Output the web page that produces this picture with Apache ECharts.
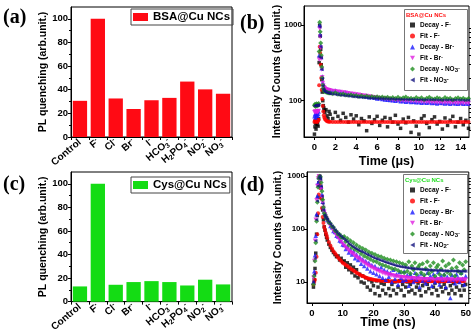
<!DOCTYPE html>
<html><head><meta charset="utf-8">
<script src="https://cdn.jsdelivr.net/npm/echarts@6.0.0/dist/echarts.min.js"></script>
<style>html,body{margin:0;padding:0;background:#fff}#c{width:474px;height:335px}</style>
</head><body><div id="c"></div>
<script>
// ---------- data ----------
const barCats = ['Control','F','Cl','Br','I','HCO3','H2PO4','NO2','NO3'];
const barLabels = ['Control','F{p|-}','Cl{p|-}','Br{p|-}','I{p|-}','HCO{b|3}{p|-}','H{b|2}PO{b|4}{p|-}','NO{b|2}{p|-}','NO{b|3}{p|-}'];
const bsaQuench = [30.6, 100, 32.6, 23.7, 31.1, 33.1, 46.9, 40.3, 36.6];
const cysQuench = [12.9, 100, 14.3, 16.6, 17.4, 16.6, 13.7, 18.6, 14.6];
const barYTicks = [0, 20, 40, 60, 80, 100];

// panel (b): time in microseconds
const bTime = [0,0.05,0.1,0.15,0.2,0.25,0.3,0.35,0.4,0.45,0.5,0.55,0.6,0.65,0.7,0.75,0.8,0.85,0.9,0.95,1,1.1,1.2,1.3,1.4,
1.5,1.75,2,2.25,2.5,2.75,3,3.25,3.5,3.75,4,4.25,4.5,4.75,5,5.25,5.5,5.75,6,6.25,6.5,6.75,7,7.25,7.5,7.75,8,8.25,8.5,8.75,9,9.25,9.5,9.75,10,10.25,10.5,10.75,11,11.25,11.5,11.75,12,12.25,12.5,12.75,13,13.25,13.5,13.75,14,14.25,14.5,14.75];
const bDecayF = [36,45,50,42,55,48,52,46,58,320,1000,720,480,300,190,130,100,86,80,74,70,76,63,58,72,
66,58,70,62,55,68,60,52,65,57,63,48,58,54,40,61,50,56,62,47,55,60,45,58,52,64,49,43,57,51,60,38,54,46,36,58,63,50,44,56,61,49,53,42,59,47,55,62,45,52,58,48,55,43];
const bFitF = [52,54,55,53,54,52,53,55,56,160,520,430,300,200,140,105,85,72,64,60,57,55,53.5,53,52.5,
52.4,52.3,52.2,52.1,52.1,52,52,52,52,52,52,52,52,52,52,52,52,52,52,52,52,52,52,52,52,52,52,52,52,52,52,52,52,52,52,52,52,52,52,52,52,52,52,52,52,52,52,52,52,52,52,52,52,52];
const bDecayBr = [62,66,60,70,64,68,63,67,72,400,1000,760,540,380,270,210,175,160,152,148,146,143,141,139,138,
137,135,136,132,131,128,129,125,124,122,121,118,117,115,114,111,112,109,107,108,105,104,103,102,101,100,101,98,99,97,98,96,97,95,96,94,95,94,95,93,94,92,94,93,92,93,91,93,92,91,93,91,92,91];
const bFitBr = [70,72,71,70,72,71,70,72,73,350,900,700,500,360,260,205,172,158,151,147,145,142,140,138.5,137.5,
136,134.5,133,131.5,130,128.5,127,125.5,124,122.5,121,119.5,118,116.5,115,113.5,112,110.5,109,108,107,106,105,104,103,102,101,100.5,100,99.5,99,98.5,98,97.5,97,96.5,96,95.7,95.4,95.1,94.8,94.5,94.2,94,93.8,93.6,93.4,93.2,93,92.8,92.6,92.4,92.2,92];
const bDecayNO3 = [86,90,84,88,91,85,89,87,92,450,1100,820,580,400,280,200,160,145,138,134,132,130,128,127,126,
126,124,127,122,121,123,119,118,120,116,117,114,116,113,115,112,114,111,113,110,112,109,111,108,110,107,111,106,109,112,107,108,105,110,106,109,104,108,111,106,105,109,107,104,110,106,108,103,107,109,105,108,104,107];
const bFitNO3 = [85,86,87,86,87,86,87,86,88,380,950,720,520,370,260,195,158,143,137,133,131,129,127,126,125,
124,122.5,121,119.5,118,117,116,115,114,113,112,111.2,110.5,109.8,109.2,108.6,108,107.5,107,106.6,106.2,105.8,105.5,105.2,104.9,104.6,104.4,104.2,104,103.8,103.6,103.4,103.3,103.2,103.1,103,102.9,102.8,102.7,102.6,102.5,102.4,102.3,102.2,102.1,102,102,101.9,101.9,101.8,101.8,101.7,101.7,101.6];
const bXTicks = [0,2,4,6,8,10,12,14];
const bYTicks = [100,1000];
const bYMinor = [40,50,60,70,80,90,200,300,400,500,600,700,800,900];

// panel (d): time in nanoseconds
const dTime = [0.5,0.75,1,1.25,1.5,1.75,2,2.25,2.5,2.75,3,3.25,3.5,3.75,4,4.25,4.5,4.75,5,5.5,6,6.5,7,7.5,8,8.5,9,9.5,10,
10.5,11,11.5,12,12.5,13,13.5,14,14.5,15,15.5,16,16.5,17,17.5,18,18.5,19,19.5,20,20.5,21,21.5,22,22.5,23,23.5,24,24.5,25,25.5,26,26.5,27,27.5,28,28.5,29,29.5,30,30.5,31,31.5,32,32.5,33,33.5,34,34.5,35,35.5,36,36.5,37,37.5,38,38.5,39,39.5,40,40.5,41,41.5,42,42.5,43,43.5,44,44.5,45,45.5,46,46.5,47,47.5,48,48.5,49,49.5,50];
const dDecayF = [8,11,18,35,80,180,400,750,1000,900,600,380,230,150,110,95,80,70,62,52,45,40,36,33,30,31,26,28,24,
25,19,23,17,21,15,19,13,17,12,14,10,13,9.5,12,8,11,7,10,8.5,6,10.5,8,5.5,9.5,7,9,6,10.5,7.5,5.5,9,7,10,6,8,10.5,7,9,5.5,8,10,6.5,9,7,10.5,6,8,9.5,7,5.5,8.5,10,6.5,9,7.5,10.5,6,8,9.5,7,5.5,10,8,6.5,9,7.5,10.5,6,8.5,7,9.5,6,8,10,7,5.5,8.5,7,9];
const dFitF = [9,10,11,15,30,80,200,450,700,600,380,250,170,130,110,97,85,76,68,57,49,43,38,35,32,29,27,25,23,
22,21,20,19,18,17.2,16.5,15.7,15,14.4,13.8,13.3,12.9,12.5,12.1,11.8,11.6,11.4,11.2,11,10.9,10.8,10.7,10.6,10.55,10.5,10.45,10.4,10.4,10.35,10.35,10.3,10.3,10.3,10.3,10.3,10.3,10.3,10.3,10.3,10.3,10.3,10.3,10.3,10.3,10.3,10.3,10.3,10.3,10.3,10.3,10.3,10.3,10.3,10.3,10.3,10.3,10.3,10.3,10.3,10.3,10.3,10.3,10.3,10.3,10.3,10.3,10.3,10.3,10.3,10.3,10.3,10.3,10.3,10.3,10.3,10.3,10.3,10.3];
const dDecayBr = [10,16,32,75,190,420,760,950,1000,880,640,450,330,260,220,205,176,170,148,136,114,108,92,88,75,72,61,59,51,
50,42,47,36,41,33,38,28,33,26,30,22,27,20,25,18,23,16,21,15,20,14,18,13,19,12,17,11,16,12.5,15,10,17,11.5,14,9,15.5,12,10.5,16,11,13.5,8.5,14,12,10,15,11,13,8,14.5,10.5,12.5,9.5,15,11,13,8.5,14,10,12,15.5,9,13,11,14,8,12.5,10.5,5,13.5,11,9.5,14,12,10,15,11.5,9,13];
const dFitBr = [12,25,60,150,350,650,900,1000,950,780,560,400,310,250,210,190,172,158,146,128,114,102,92,83,75,68,62,57,52,
48,45,42,39.5,37,35,33,31,29.5,28,26.5,25.2,24,23,22,21,20.2,19.4,18.7,18,17.4,16.8,16.3,15.8,15.4,15,14.6,14.3,14,13.7,13.5,13.3,13.1,12.9,12.7,12.5,12.4,12.3,12.2,12.1,12,11.9,11.8,11.7,11.7,11.6,11.6,11.5,11.5,11.4,11.4,11.4,11.3,11.3,11.3,11.2,11.2,11.2,11.2,11.1,11.1,11.1,11.1,11,11,11,11,11,11,11,11,11,11,11,11,11,11,11,11,11];
const dDecayNO3 = [9,13,25,55,140,320,620,900,1000,980,760,520,360,260,200,185,172,160,152,135,128,112,108,94,90,80,79,70,69,
72,58,66,50,60,45,55,41,50,38,46,34,43,31,40,29,37,27,35,25,33,24,31,22,30,21,28,20,27,19,26,18,25,17.5,24,16.5,23,15.5,22,15,21,16,24,14.5,20,17,23,14,19,21,15,22,13.5,18,24,14.5,20,16,23,13,19,21,14,17.5,25,13.5,20,15.5,22,14,18,26,13,19,16,23,14.5,21,17,24];
const dFitNO3 = [10,14,28,60,150,340,650,920,1000,900,650,420,300,230,185,175,165,157,150,137,125,114,105,96,88,82,77,72,68,
64,60.5,57,53,50.5,48,46,44,42,40.5,39,38,36.7,35.5,34.3,33,32,31,30,29,28.2,27.5,26.8,26,25.4,24.8,24.2,23.5,23,22.5,22,21.5,21.1,20.7,20.3,20,19.7,19.4,19.2,19,18.8,18.6,18.4,18.2,18,17.9,17.8,17.6,17.5,17.4,17.3,17.2,17.1,17,16.9,16.8,16.8,16.7,16.7,16.6,16.5,16.5,16.4,16.4,16.3,16.3,16.3,16.2,16.2,16.2,16.1,16.1,16.1,16.1,16,16,16,16,16,16];
const dXTicks = [0,10,20,30,40,50];
const dYTicks = [10,100,1000];
const dYMinor = [5,6,7,8,9,20,30,40,50,60,70,80,90,200,300,400,500,600,700,800,900];

const bLegendLabels = ['Decay - F{p|-}','Fit - F{p|-}','Decay - Br{p|-}','Fit - Br{p|-}','Decay - NO{b|3}{p|-}','Fit - NO{b|3}{p|-}'];
const dLegendLabels = ['Decay - F{p|-}','Fit - F{p|-}','Decay - Br{p|-}','Fit - Br{p|-}','Decay - NO{b|3}{p|-}','Fit - NO{b|2}{p|-}'];

// ---------- chart ----------
const FONT = 'Arial, "Liberation Sans", sans-serif';
const chart = echarts.init(document.getElementById('c'), null, {renderer: 'canvas'});
function pts(t, v) { const o = []; for (let i = 0; i < t.length; i++) if (v[i] != null) o.push([t[i], v[i]]); return o; }

const symDown = 'path://M0,0L10,0L5,9Z';
const symLeft = 'path://M9,0L9,10L0,5Z';
const styles = [
  {sym: 'rect', color: '#000000', size: 3.5},
  {sym: 'circle', color: '#ff0000', size: 4},
  {sym: 'triangle', color: '#1a1aff', size: 4.5},
  {sym: symDown, color: '#e020e0', size: 4.5},
  {sym: 'diamond', color: '#1f8f1f', size: 5},
  {sym: symLeft, color: '#141480', size: 3.5}
];
const bSeriesVals = [bDecayF, bFitF, bDecayBr, bFitBr, bDecayNO3, bFitNO3];
const dSeriesVals = [dDecayF, dFitF, dDecayBr, dFitBr, dDecayNO3, dFitNO3];
const bNames = ['bDecayF','bFitF','bDecayBr','bFitBr','bDecayNO3','bFitNO3'];
const dNames = ['dDecayF','dFitF','dDecayBr','dFitBr','dDecayNO3','dFitNO3'];

const lineBlack = {show: true, onZero: false, lineStyle: {color: '#000', width: 1}};
const tickLbl = {color: '#000', fontSize: 9.5, fontWeight: 'bold', fontFamily: FONT};
const nameStyle = {color: '#000', fontSize: 10.5, fontWeight: 'bold', fontFamily: FONT};
const richSup = {
  p: {fontSize: 6, verticalAlign: 'top', fontWeight: 'bold', fontFamily: FONT, color: '#000', lineHeight: 6},
  b: {fontSize: 6, verticalAlign: 'bottom', fontWeight: 'bold', fontFamily: FONT, color: '#000', lineHeight: 6}
};

function barX(gi) {
  return {type: 'category', gridIndex: gi, data: barCats, axisLine: lineBlack,
    axisTick: {show: true, length: 3, lineStyle: {color: '#000'}},
    axisLabel: {interval: 0, rotate: 40, margin: 4, formatter: (v, i) => barLabels[i],
      color: '#000', fontSize: 10, fontWeight: 'bold', fontFamily: FONT, lineHeight: 12,
      rich: {p: {fontSize: 7, verticalAlign: 'top', fontWeight: 'bold', fontFamily: FONT, color: '#000', lineHeight: 7},
             b: {fontSize: 7, verticalAlign: 'bottom', fontWeight: 'bold', fontFamily: FONT, color: '#000', lineHeight: 7}}}};
}
function barY(gi) {
  return {type: 'value', gridIndex: gi, min: 0, max: 110, interval: 20,
    name: 'PL quenching (arb.unit.)', nameLocation: 'middle', nameGap: 22, nameMoveOverlap: false, nameTextStyle: nameStyle,
    axisLine: lineBlack, axisTick: {show: true, length: 3, customValues: barYTicks, lineStyle: {color: '#000'}},
    minorTick: {show: true, splitNumber: 2, length: 2, lineStyle: {color: '#000'}},
    splitLine: {show: false},
    axisLabel: Object.assign({margin: 3, customValues: barYTicks}, tickLbl)};
}
function logY(gi, min, max, ticks, gap) {
  return {type: 'log', logBase: 10, gridIndex: gi, min: min, max: max,
    name: 'Intensity Counts (arb.unit.)', nameLocation: 'middle', nameGap: gap, nameMoveOverlap: false, nameTextStyle: nameStyle,
    axisLine: lineBlack, axisTick: {show: true, length: 3, customValues: ticks, lineStyle: {color: '#000'}},
    splitLine: {show: false}, minorTick: {show: false},
    axisLabel: Object.assign({}, tickLbl, {fontSize: 8, margin: 2, customValues: ticks, formatter: v => String(Math.round(v))})};
}
function logYMinor(gi, min, max, ticks) {
  return {type: 'log', logBase: 10, gridIndex: gi, min: min, max: max,
    axisLine: {show: false, onZero: false}, axisTick: {show: true, length: 2, customValues: ticks, lineStyle: {color: '#000'}},
    splitLine: {show: false}, axisLabel: {show: false}};
}
function timeX(gi, min, max, ticks, name, gap) {
  return {type: 'value', gridIndex: gi, min: min, max: max,
    name: name, nameLocation: 'middle', nameGap: gap, nameMoveOverlap: false,
    nameTextStyle: {color: '#000', fontSize: 12.5, fontWeight: 'bold', fontFamily: FONT},
    axisLine: lineBlack, axisTick: {show: true, length: 3, customValues: ticks, lineStyle: {color: '#000'}},
    splitLine: {show: false},
    axisLabel: Object.assign({margin: 5, customValues: ticks}, tickLbl)};
}

const grids = [
  {left: 71, top: 7, width: 161, height: 130},
  {left: 304, top: 6, width: 165, height: 131},
  {left: 71, top: 172, width: 161, height: 131},
  {left: 307, top: 172, width: 162, height: 131}
].map(g => Object.assign({show: true, borderColor: '#000', borderWidth: 1, backgroundColor: 'transparent'}, g));

const series = [
  {name: 'BSA@Cu NCs', type: 'bar', xAxisIndex: 0, yAxisIndex: 0, data: bsaQuench, barCategoryGap: '20%', itemStyle: {color: '#ff0a14'}},
  {name: 'Cys@Cu NCs', type: 'bar', xAxisIndex: 2, yAxisIndex: 3, data: cysQuench, barCategoryGap: '20%', itemStyle: {color: '#14dc14'}}
];
bNames.forEach((n, i) => series.push({name: n, type: 'scatter', xAxisIndex: 1, yAxisIndex: 1,
  data: pts(bTime, bSeriesVals[i]), symbol: styles[i].sym, symbolSize: styles[i].size,
  itemStyle: {color: styles[i].color}, silent: true}));
dNames.forEach((n, i) => series.push({name: n, type: 'scatter', xAxisIndex: 3, yAxisIndex: 4,
  data: pts(dTime, dSeriesVals[i]), symbol: styles[i].sym, symbolSize: styles[i].size,
  itemStyle: {color: styles[i].color}, silent: true}));

const legTxt = {color: '#000', fontSize: 6.5, fontWeight: 'bold', fontFamily: FONT, lineHeight: 8, rich: richSup};
function scLegend(names, labels, left, top) {
  return {show: true, orient: 'vertical', left: left, top: top, z: 60, itemGap: 3, itemWidth: 5, itemHeight: 5,
    padding: 0, selectedMode: false, textStyle: legTxt,
    data: names.map((n, i) => ({name: n, icon: styles[i].sym, itemStyle: {color: styles[i].color}})),
    formatter: name => labels[names.indexOf(name)]};
}

const option = {
  animation: false,
  backgroundColor: '#fff',
  grid: grids,
  xAxis: [barX(0), timeX(1, -1, 14.8, bXTicks, 'Time (μs)', 18), barX(2), timeX(3, -1.6, 51, dXTicks, 'Time (ns)', 13)],
  yAxis: [barY(0), logY(1, 33, 1800, bYTicks, 21), logYMinor(1, 33, 1800, bYMinor), barY(2), logY(3, 4, 1200, dYTicks, 23), logYMinor(3, 4, 1200, dYMinor)],
  legend: [
    {data: ['BSA@Cu NCs'], left: 131, top: 9, icon: 'rect', itemWidth: 15, itemHeight: 8, itemGap: 3,
      borderColor: '#444', borderWidth: 1, padding: [2, 3, 2, 2], selectedMode: false,
      textStyle: {color: '#000', fontSize: 11.5, fontWeight: 'bold', fontFamily: FONT}},
    {data: ['Cys@Cu NCs'], left: 131, top: 177, icon: 'rect', itemWidth: 15, itemHeight: 8, itemGap: 3,
      borderColor: '#444', borderWidth: 1, padding: [2, 3, 2, 2], selectedMode: false,
      textStyle: {color: '#000', fontSize: 11.5, fontWeight: 'bold', fontFamily: FONT}},
    scLegend(bNames, bLegendLabels, 410, 21),
    scLegend(dNames, dLegendLabels, 410, 186)
  ],
  graphic: [
    {type: 'rect', z: 50, shape: {x: 404.5, y: 9.5, width: 63, height: 81}, style: {fill: '#fff', stroke: '#777', lineWidth: 1}},
    {type: 'text', z: 60, x: 406, y: 15, style: {text: 'BSA@Cu NCs', fill: '#ff1010', font: 'bold 6px ' + FONT, textVerticalAlign: 'middle'}},
    {type: 'rect', z: 50, shape: {x: 403.5, y: 174.5, width: 64, height: 79}, style: {fill: '#fff', stroke: '#777', lineWidth: 1}},
    {type: 'text', z: 60, x: 405, y: 180, style: {text: 'Cys@Cu NCs', fill: '#22dd22', font: 'bold 6px ' + FONT, textVerticalAlign: 'middle'}},
    {type: 'text', x: 3, y: 8, style: {text: '(a)', fill: '#000', font: 'bold 20px "Liberation Serif", "Times New Roman", serif'}},
    {type: 'text', x: 240, y: 14, style: {text: '(b)', fill: '#000', font: 'bold 20px "Liberation Serif", "Times New Roman", serif'}},
    {type: 'text', x: 3, y: 175, style: {text: '(c)', fill: '#000', font: 'bold 20px "Liberation Serif", "Times New Roman", serif'}},
    {type: 'text', x: 240, y: 176, style: {text: '(d)', fill: '#000', font: 'bold 20px "Liberation Serif", "Times New Roman", serif'}}
  ],
  series: series
};
chart.setOption(option);
</script></body></html>
